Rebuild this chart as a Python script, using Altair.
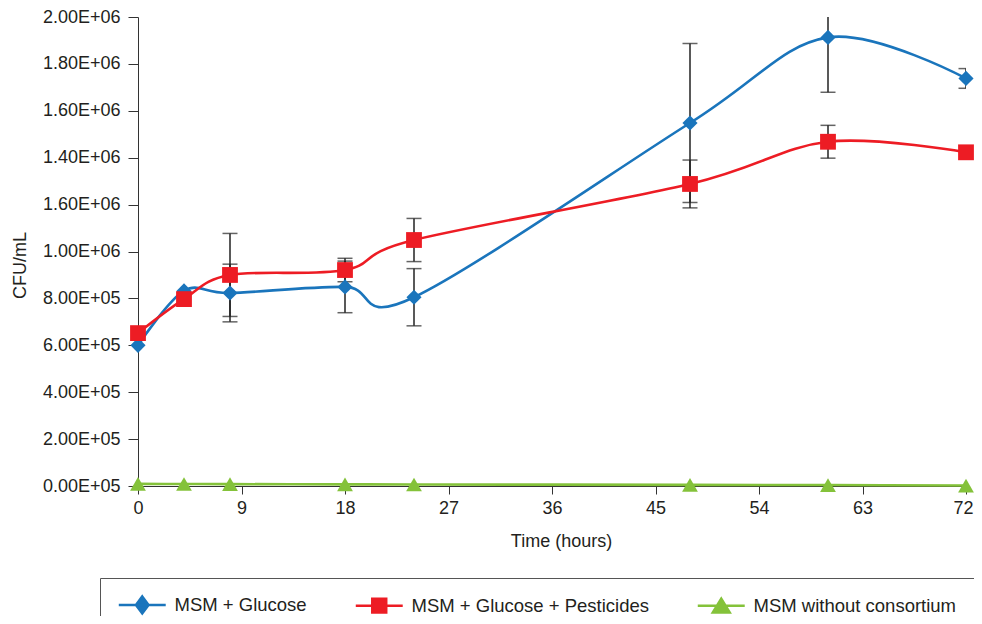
import json
import altair as alt
import pandas as pd

# ---- data ----
hours = [0, 4, 8, 18, 24, 48, 60, 72]
series_names = ["MSM + Glucose", "MSM + Glucose + Pesticides", "MSM without consortium"]
glucose = [600000, 832000, 823000, 849000, 805000, 1548000, 1913000, 1738000]
glucose_err = [0, 0, 123000, 110000, 122000, 339000, 234000, 42000]
pesticides = [652000, 797000, 900000, 921000, 1049000, 1288000, 1468000, 1423000]
pesticides_err = [0, 0, 177000, 50000, 92000, 102000, 70000, 0]
no_consortium = [9000, 8500, 8000, 7000, 6500, 5000, 4000, 2000]
no_consortium_err = [0, 0, 0, 0, 0, 0, 0, 0]

x_ticks = [0, 9, 18, 27, 36, 45, 54, 63, 72]
y_ticks = [0, 200000, 400000, 600000, 800000, 1000000, 1200000, 1400000, 1600000, 1800000, 2000000]
y_tick_labels = ["0.00E+05", "2.00E+05", "4.00E+05", "6.00E+05", "8.00E+05", "1.00E+06",
                 "1.60E+06", "1.40E+06", "1.60E+06", "1.80E+06", "2.00E+06"]

colors = ["#1A75BC", "#ED1C24", "#84C23A"]
shapes = ["diamond", "square", "triangle-up"]
shape_sizes = [230, 250, 250]
legend_paths = [
    "M-3.13,0H3.13M0,-1.13L0.84,0L0,1.13L-0.84,0Z",
    "M-3.13,0H3.13M-0.93,-0.93H0.93V0.93H-0.93Z",
    "M-3.13,0H3.13M0,-0.93L1.13,0.93H-1.13Z",
]

rows = []
for name, vals, errs in zip(series_names,
                            [glucose, pesticides, no_consortium],
                            [glucose_err, pesticides_err, no_consortium_err]):
    for t, v, e in zip(hours, vals, errs):
        rows.append({"time": t, "series": name, "value": v, "err": e})
df = pd.DataFrame(rows)

FONT = "Liberation Sans"
TXT = "#231F20"
OX = 138  # page x of the plot origin

x_scale = alt.Scale(domain=[0, 72], nice=False, zero=False)
x_axis = alt.Axis(values=x_ticks, title="Time (hours)", grid=False,
                  tickSize=8, labelPadding=5, labelFontSize=18, labelFlush=False,
                  labelOffset={"condition": {"test": "datum.value == 72", "value": -3}, "value": 0},
                  titleFontSize=18, titleFontWeight="normal",
                  titleX=561 - OX, titleY=55, titleBaseline="middle",
                  labelFont=FONT, titleFont=FONT,
                  labelColor=TXT, titleColor=TXT,
                  domainColor="#333333", tickColor="#333333")
y_scale = alt.Scale(domain=[0, 2000000], nice=False)
y_axis = alt.Axis(values=y_ticks,
                  labelExpr=json.dumps(y_tick_labels) + "[round(datum.value / 200000)]",
                  title="CFU/mL", grid=False, tickSize=10, labelPadding=8,
                  labelFontSize=18, titleFontSize=18, titleFontWeight="normal",
                  titleX=20 - OX, titleY=248, titleBaseline="middle", titleAlign="center",
                  labelFont=FONT, titleFont=FONT,
                  labelColor=TXT, titleColor=TXT,
                  domainColor="#333333", tickColor="#333333")

base = alt.Chart(df)

err_base = base.transform_filter("datum.err > 0").transform_calculate(
    lo="datum.value - datum.err", hi="datum.value + datum.err")

err_rule = err_base.mark_rule(color="#222222", strokeWidth=1.5, clip=True).encode(
    x=alt.X("time:Q", scale=x_scale, axis=x_axis),
    y=alt.Y("lo:Q", scale=y_scale, axis=y_axis),
    y2="hi:Q")
err_lo = err_base.mark_tick(orient="horizontal", color="#222222", size=15,
                            thickness=1.5, clip=True).encode(x="time:Q", y="lo:Q")
err_hi = err_base.mark_tick(orient="horizontal", color="#222222", size=15,
                            thickness=1.5, clip=True).encode(x="time:Q", y="hi:Q")

line_layers = []
point_layers = []
for name, col, shp, sz in zip(series_names, colors, shapes, shape_sizes):
    sub = base.transform_filter(alt.datum.series == name)
    line_layers.append(
        sub.mark_line(interpolate="cardinal", strokeWidth=2.6, color=col)
        .encode(x="time:Q", y="value:Q"))
    point_layers.append(
        sub.mark_point(filled=True, opacity=1, shape=shp, size=sz, color=col)
        .encode(x="time:Q", y="value:Q"))

legend_props = dict(
    orient="none", legendX=100 - OX, legendY=561, direction="horizontal",
    title="\u00a0", titleOrient="right", titleFontSize=1, titlePadding=25,
    padding=17.5, strokeColor="#555555", fillColor="white",
    symbolSize=225, symbolStrokeWidth=2.5, symbolOffset=15.5, symbolOpacity=1,
    labelOffset=23, columnPadding=43, labelFontSize=18.5, labelFont=FONT,
    labelColor=TXT, labelLimit=400,
)

legend_layer = base.mark_point(filled=True, opacity=0).encode(
    x="time:Q", y="value:Q",
    color=alt.Color("series:N", scale=alt.Scale(domain=series_names, range=colors),
                    legend=alt.Legend(**legend_props)),
    stroke=alt.Stroke("series:N", scale=alt.Scale(domain=series_names, range=colors),
                      legend=alt.Legend(**legend_props)),
    shape=alt.Shape("series:N", scale=alt.Scale(domain=series_names, range=legend_paths),
                    legend=alt.Legend(**legend_props)),
)

chart = alt.layer(err_rule, err_lo, err_hi, *line_layers, *point_layers, legend_layer).properties(
    width=828, height=469,
    autosize=alt.AutoSizeParams(type="none"),
    padding={"left": OX - 8, "top": 9, "right": 8, "bottom": 130},
    background="white",
).configure_view(stroke=None)

chart.save("out.html", embed_options={"renderer": "svg", "actions": False})
